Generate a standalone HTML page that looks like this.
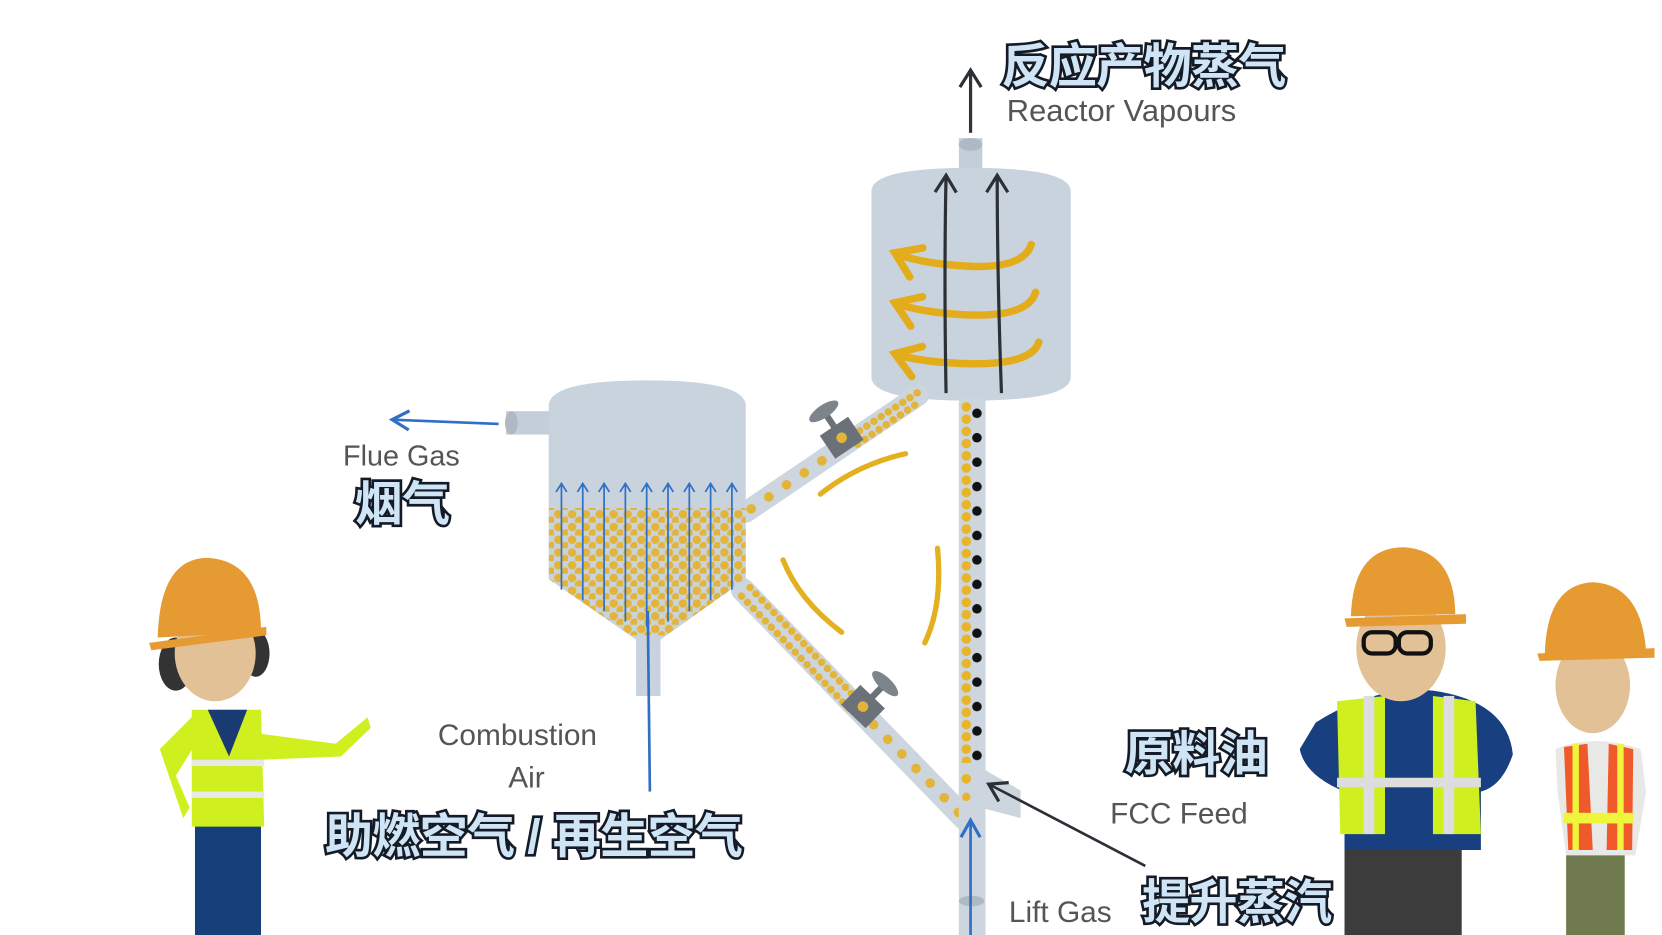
<!DOCTYPE html>
<html><head><meta charset="utf-8"><style>
html,body{margin:0;padding:0;background:#fff;overflow:hidden}
svg{display:block}
.cn{font-family:"Liberation Sans","Noto Sans CJK SC",sans-serif;font-weight:bold;fill:#cfe5f6;stroke:#151b26;stroke-width:5;paint-order:stroke;letter-spacing:-0.5px}
.en{font-family:"Liberation Sans",sans-serif;fill:#555;}
</style></head><body>
<svg width="1662" height="935" viewBox="0 0 1560 880" preserveAspectRatio="none" xmlns="http://www.w3.org/2000/svg">
<defs>
<marker id="akb" markerWidth="24" markerHeight="24" refX="20" refY="12" orient="auto" markerUnits="userSpaceOnUse"><path d="M4,2 L20,12 L4,22" fill="none" stroke="#2b2f36" stroke-width="3"/></marker>
<marker id="ab" markerWidth="24" markerHeight="24" refX="20" refY="12" orient="auto" markerUnits="userSpaceOnUse"><path d="M4,3 L20,12 L4,21" fill="none" stroke="#2f6fc4" stroke-width="3"/></marker>
<marker id="abs" markerWidth="12" markerHeight="12" refX="10" refY="6" orient="auto" markerUnits="userSpaceOnUse"><path d="M2,1 L10,6 L2,11" fill="none" stroke="#2f6fc4" stroke-width="1.6"/></marker>
<marker id="ay" markerWidth="40" markerHeight="40" refX="30" refY="20" orient="auto" markerUnits="userSpaceOnUse"><path d="M8,5 L30,20 L8,35" fill="none" stroke="#e3ac1a" stroke-width="7" stroke-linecap="round"/></marker>
<pattern id="riser" x="900" y="378" width="25" height="23" patternUnits="userSpaceOnUse">
<circle cx="7" cy="5" r="4.5" fill="#e8b52a"/><circle cx="7" cy="16.5" r="4.5" fill="#e8b52a"/><circle cx="17" cy="11" r="4.5" fill="#111"/></pattern>
<pattern id="regen" width="13" height="12" patternUnits="userSpaceOnUse"><circle cx="4" cy="4" r="4" fill="#e3b43a"/><circle cx="10.5" cy="10" r="4" fill="#e3b43a"/></pattern>
</defs>

<!-- reactor -->
<rect x="900" y="130" width="22" height="35" fill="#c3ced9"/>
<ellipse cx="911" cy="136" rx="11" ry="6" fill="#aeb9c4"/>
<path d="M818,180 Q818,158 911,158 Q1005,158 1005,180 L1005,355 Q1005,377 911,377 Q818,377 818,355 Z" fill="#c9d3dd"/>
<line x1="911" y1="125" x2="911" y2="66" stroke="#333" stroke-width="3" marker-end="url(#akb)"/>
<g fill="none" stroke="#e3ac1a" stroke-width="7" stroke-linecap="round">
<path d="M968,230 Q960,255 900,250 Q860,247 840,238" marker-end="url(#ay)"/>
<path d="M972,275 Q965,300 900,296 Q860,293 840,285" marker-end="url(#ay)"/>
<path d="M975,322 Q968,345 900,342 Q860,340 840,333" marker-end="url(#ay)"/>
</g>
<path d="M888,370 Q886,260 888,165" fill="none" stroke="#2b2f36" stroke-width="3" marker-end="url(#akb)"/>
<path d="M940,370 Q936,260 936,165" fill="none" stroke="#2b2f36" stroke-width="3" marker-end="url(#akb)"/>

<!-- diagonals -->
<g stroke-linecap="round">
<line x1="700" y1="482" x2="862" y2="372" stroke="#cdd6df" stroke-width="20"/>
<line x1="705" y1="479" x2="790" y2="421" stroke="#e3b43a" stroke-width="9" stroke-dasharray="0.1 20"/>
<line x1="800" y1="410" x2="862" y2="369" stroke="#e3b43a" stroke-width="7" stroke-dasharray="0.1 8"/>
<line x1="805" y1="418" x2="865" y2="377" stroke="#e3b43a" stroke-width="7" stroke-dasharray="0.1 8"/>
<line x1="697" y1="555" x2="905" y2="770" stroke="#cdd6df" stroke-width="22"/>
<line x1="696" y1="561" x2="800" y2="670" stroke="#e3b43a" stroke-width="7" stroke-dasharray="0.1 8"/>
<line x1="704" y1="553" x2="808" y2="662" stroke="#e3b43a" stroke-width="7" stroke-dasharray="0.1 8"/>
<line x1="820" y1="682" x2="900" y2="765" stroke="#e3b43a" stroke-width="9" stroke-dasharray="0.1 19"/>
</g>
<g transform="translate(790,412) rotate(-34)"><rect x="-16" y="-13" width="32" height="26" fill="#6b7178"/><circle r="5" fill="#e3b43a"/><rect x="-3" y="-28" width="6" height="16" fill="#6b7178"/><ellipse cx="0" cy="-30" rx="16" ry="6" fill="#7d848b"/></g>
<g transform="translate(810,665) rotate(44)"><rect x="-16" y="-13" width="32" height="26" fill="#6b7178"/><circle r="5" fill="#e3b43a"/><rect x="-3" y="-28" width="6" height="16" fill="#6b7178"/><ellipse cx="0" cy="-30" rx="16" ry="6" fill="#7d848b"/></g>
<g fill="none" stroke="#e3b020" stroke-width="5" stroke-linecap="round">
<path d="M770,465 Q805,437 850,427"/>
<path d="M735,527 Q750,565 790,595"/>
<path d="M880,516 Q885,570 868,605"/>
</g>

<!-- riser -->
<rect x="900" y="375" width="25" height="505" fill="#cdd6df"/>
<path d="M920,722 L958,744 L958,770 L920,760 Z" fill="#cdd6df"/>
<rect x="900" y="378" width="25" height="340" fill="url(#riser)"/>
<circle cx="907" cy="733" r="4.5" fill="#e8b52a"/><circle cx="907" cy="750" r="4" fill="#e8b52a"/>
<ellipse cx="912" cy="848" rx="12" ry="5" fill="#aeb9c4"/>
<line x1="911" y1="880" x2="911" y2="772" stroke="#2f6fc4" stroke-width="2.5" marker-end="url(#ab)"/>
<line x1="1075" y1="815" x2="928" y2="738" stroke="#2b2f36" stroke-width="2.5" marker-end="url(#akb)"/>

<!-- regenerator -->
<rect x="475" y="387" width="45" height="22" fill="#c3ced9"/>
<ellipse cx="480" cy="398" rx="6" ry="11" fill="#aeb9c4"/>
<path d="M515,382 Q515,358 607,358 Q700,358 700,382 L700,545 L620,602 L620,655 L597,655 L597,602 L515,545 Z" fill="#c9d3dd"/>
<clipPath id="rc"><path d="M515,478 L700,478 L700,545 L625,598 L592,598 L515,545 Z"/></clipPath>
<rect x="515" y="478" width="185" height="125" fill="url(#regen)" clip-path="url(#rc)"/>
<g stroke="#2f6fc4" stroke-width="1.6" fill="none">
<line x1="527" y1="555" x2="527" y2="455" marker-end="url(#abs)"/>
<line x1="547" y1="565" x2="547" y2="455" marker-end="url(#abs)"/>
<line x1="567" y1="575" x2="567" y2="455" marker-end="url(#abs)"/>
<line x1="587" y1="585" x2="587" y2="455" marker-end="url(#abs)"/>
<line x1="607" y1="590" x2="607" y2="455" marker-end="url(#abs)"/>
<line x1="627" y1="585" x2="627" y2="455" marker-end="url(#abs)"/>
<line x1="647" y1="575" x2="647" y2="455" marker-end="url(#abs)"/>
<line x1="667" y1="565" x2="667" y2="455" marker-end="url(#abs)"/>
<line x1="687" y1="555" x2="687" y2="455" marker-end="url(#abs)"/>
</g>
<line x1="610" y1="745" x2="608" y2="575" stroke="#2f6fc4" stroke-width="2.5"/>
<line x1="468" y1="399" x2="368" y2="395" stroke="#2f6fc4" stroke-width="2.5" marker-end="url(#ab)"/>

<!-- labels -->
<text class="cn" x="940" y="78" font-size="45">反应产物蒸气</text>
<text class="en" x="945" y="114" font-size="29">Reactor Vapours</text>
<text class="en" x="322" y="438" font-size="27">Flue Gas</text>
<text class="cn" x="333" y="490" font-size="45">烟气</text>
<text class="en" x="411" y="701" font-size="28">Combustion</text>
<text class="en" x="477" y="741" font-size="28">Air</text>
<text class="cn" x="305" y="803" font-size="45">助燃空气 / 再生空气</text>
<text class="cn" x="1056" y="725" font-size="45">原料油</text>
<text class="en" x="1042" y="775" font-size="28">FCC Feed</text>
<text class="en" x="947" y="868" font-size="28">Lift Gas</text>
<text class="cn" x="1072" y="865" font-size="45">提升蒸汽</text>

<!-- left worker -->
<g>
<rect x="183" y="770" width="62" height="110" fill="#17407a"/>
<path d="M150,705 L185,670 L190,690 L165,730 L178,760 L172,770 Z" fill="#cff01e"/>
<path d="M240,690 L315,700 L345,675 L348,685 L320,712 L245,715 Z" fill="#cff01e"/>
<path d="M180,668 L245,668 L248,778 L180,778 Z" fill="#cff01e"/>
<path d="M195,668 L215,712 L232,668 Z" fill="#1a3a73"/>
<rect x="180" y="715" width="68" height="6" fill="#e8e8e8"/><rect x="180" y="745" width="68" height="6" fill="#e8e8e8"/>
<ellipse cx="165" cy="625" rx="16" ry="25" fill="#333"/><ellipse cx="240" cy="615" rx="13" ry="22" fill="#333"/>
<ellipse cx="202" cy="615" rx="38" ry="45" fill="#e2c196"/>
<path d="M148,600 Q150,525 195,525 Q245,528 245,595 Z" fill="#e59b32"/>
<path d="M140,605 L250,590 L250,598 L142,612 Z" fill="#e59b32"/>
</g>
<!-- right worker 1 -->
<g>
<rect x="1262" y="795" width="110" height="85" fill="#3c3c3c"/>
<path d="M1235,680 Q1290,645 1345,650 Q1415,660 1420,710 Q1410,740 1390,745 L1390,800 L1262,800 L1262,745 Q1225,730 1220,705 Z" fill="#183f80"/>
<path d="M1255,660 L1300,655 L1300,785 L1258,785 Z" fill="#cff01e"/>
<path d="M1345,655 L1385,660 L1390,785 L1345,785 Z" fill="#cff01e"/>
<rect x="1280" y="655" width="10" height="130" fill="#ddd"/><rect x="1355" y="655" width="10" height="130" fill="#ddd"/>
<rect x="1255" y="732" width="135" height="9" fill="#ddd"/>
<ellipse cx="1315" cy="610" rx="42" ry="50" fill="#e2c196"/>
<rect x="1280" y="595" width="30" height="20" rx="8" fill="none" stroke="#111" stroke-width="4"/><rect x="1313" y="595" width="30" height="20" rx="8" fill="none" stroke="#111" stroke-width="4"/>
<path d="M1268,580 Q1270,515 1318,515 Q1365,518 1366,578 Z" fill="#e59b32"/>
<path d="M1262,582 L1376,578 L1376,587 L1264,590 Z" fill="#e59b32"/>
</g>
<!-- right worker 2 -->
<g>
<rect x="1470" y="800" width="55" height="80" fill="#6f7a4e"/>
<path d="M1460,705 Q1495,690 1540,705 L1545,745 L1535,805 L1470,805 L1462,745 Z" fill="#e8e8e6"/>
<path d="M1468,703 L1490,700 L1495,800 L1472,800 Z" fill="#f05a2a"/>
<path d="M1510,700 L1533,705 L1532,800 L1508,800 Z" fill="#f05a2a"/>
<rect x="1476" y="700" width="6" height="100" fill="#eef53a"/><rect x="1518" y="700" width="6" height="100" fill="#eef53a"/>
<rect x="1468" y="765" width="65" height="10" fill="#eef53a"/>
<ellipse cx="1495" cy="645" rx="35" ry="45" fill="#e2c196"/>
<path d="M1450,615 Q1452,550 1495,548 Q1540,550 1545,612 Z" fill="#e59b32"/>
<path d="M1443,615 L1553,610 L1553,619 L1445,622 Z" fill="#e59b32"/>
</g>
</svg>
</body></html>
